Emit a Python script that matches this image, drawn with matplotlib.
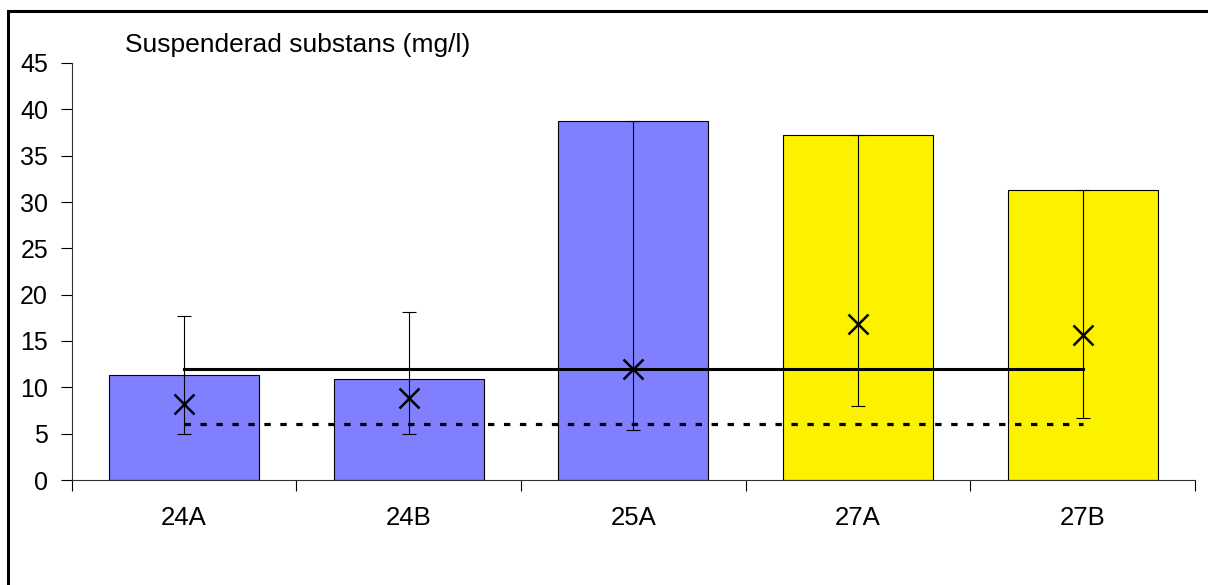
import matplotlib
matplotlib.use("Agg")
import matplotlib.pyplot as plt
import numpy as np
from matplotlib.patches import Rectangle

plt.rcParams['font.family'] = ['Liberation Sans', 'DejaVu Sans']

# sampling points and measured suspended solids (mg/l)
stations = ["24A", "24B", "25A", "27A", "27B"]
bar_values = [11.3, 10.95, 38.7, 37.2, 31.3]
err_low = [5.0, 5.0, 5.4, 8.0, 6.65]
err_high = [17.7, 18.1, 38.7, 37.2, 31.3]
cross_values = [8.25, 8.8, 12.0, 16.8, 15.6]
bar_colors = ["#8080FF", "#8080FF", "#8080FF", "#FCF200", "#FCF200"]
limit_solid = 12
limit_dotted = 6

W, H = 1208, 585
fig = plt.figure(figsize=(W / 100, H / 100), dpi=100)
ax = fig.add_axes([71.7 / W, (H - 480) / H, (1195 - 71.7) / W, (480 - 63) / H])

x = np.arange(len(stations))
ax.bar(x, bar_values, width=0.667, color=bar_colors, edgecolor="black", linewidth=0.8, zorder=2)

# whiskers run from the low to the high value around each cross
low = np.array(cross_values) - np.array(err_low)
high = np.array(err_high) - np.array(cross_values)
ax.errorbar(x, cross_values, yerr=[low, high], fmt="none", ecolor="black",
            elinewidth=0.8, capsize=5, capthick=0.8, zorder=3)
ax.plot(x, cross_values, linestyle="none", marker="x", markersize=14,
        markeredgewidth=1.8, color="black", zorder=4)

ax.plot([x[0], x[-1]], [limit_solid, limit_solid], color="black", linewidth=2.2, zorder=3)
ax.plot([x[0], x[-1]], [limit_dotted, limit_dotted], color="black", linewidth=2.3,
        linestyle=(0, (2, 3)), zorder=3)

ax.set_xlim(-0.5, len(stations) - 0.5)
ax.set_ylim(0, 45)
ax.set_yticks(range(0, 46, 5))
ax.tick_params(axis="y", direction="out", length=8, width=0.8, labelsize=18, pad=9)

# category boundaries carry the tick marks, labels sit under the bars
ax.set_xticks(np.arange(-0.5, len(stations), 1))
ax.set_xticklabels([])
ax.set_xticks(x, minor=True)
ax.set_xticklabels(stations, minor=True)
ax.tick_params(axis="x", which="major", direction="out", length=8, width=0.8)
ax.tick_params(axis="x", which="minor", length=0, labelsize=18.5, pad=19)

for side in ["top", "right"]:
    ax.spines[side].set_visible(False)
for side in ["left", "bottom"]:
    ax.spines[side].set_linewidth(0.8)
    ax.spines[side].set_color("#333333")

fig.text(125 / W, (H - 52) / H, "Suspenderad substans (mg/l)", fontsize=19,
         va="baseline", ha="left")

# outer frame, open to the right and bottom edges
fig.patches.append(Rectangle((8 / W, -0.1), 1.2, (H - 11) / H + 0.1,
                             transform=fig.transFigure, fill=False,
                             edgecolor="black", linewidth=2.2))

fig.savefig("out.png", dpi=100)
